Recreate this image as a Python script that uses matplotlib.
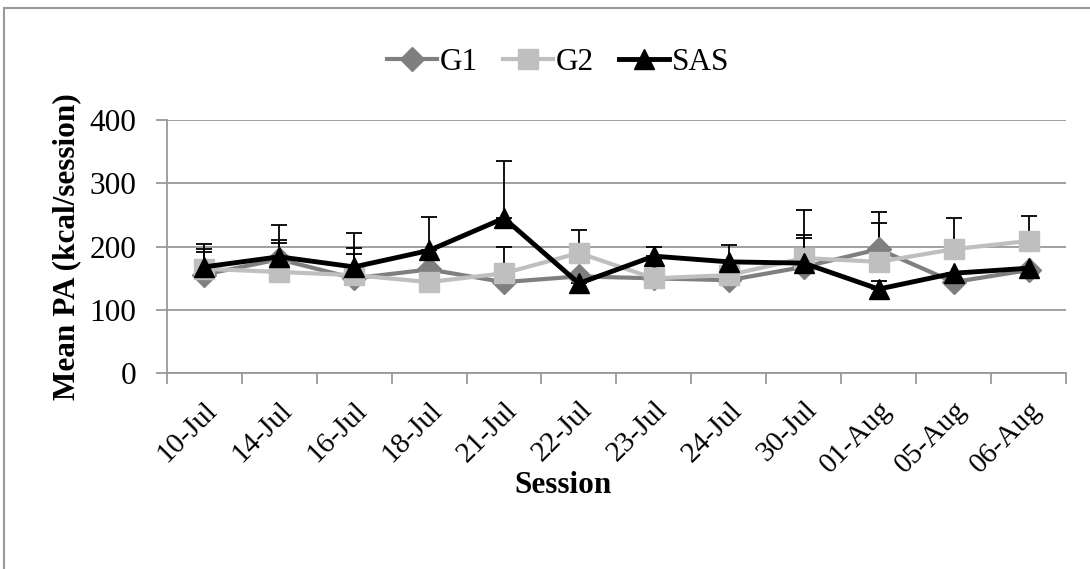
import numpy as np
import matplotlib
matplotlib.use("Agg")
import matplotlib.pyplot as plt
from matplotlib.patches import Rectangle

sessions = ["10-Jul", "14-Jul", "16-Jul", "18-Jul", "21-Jul", "22-Jul",
            "23-Jul", "24-Jul", "30-Jul", "01-Aug", "05-Aug", "06-Aug"]
g1 = [156, 180, 150, 164, 144, 153, 150, 147, 168, 196, 144, 163]
g2 = [165, 160, 155, 144, 158, 190, 150, 155, 182, 176, 196, 209]
sas = [168, 184, 168, 194, 245, 142, 185, 176, 174, 133, 158, 166]
nan = np.nan
g1_err = [35, 31, 48, nan, nan, nan, nan, nan, 50, 59, nan, nan]
g2_err = [31, 45, 33, nan, 42, 36, nan, nan, 31, 62, 49, 40]
sas_err = [36, 50, 54, 53, 90, nan, 14, 26, 84, 12, nan, nan]

plt.rcParams["font.family"] = ["Liberation Serif", "DejaVu Serif"]
fs = 22.5

fig = plt.figure(figsize=(10.9, 5.69), dpi=100)
ax = fig.add_axes([0.153, 0.344, 0.825, 0.445])
x = np.arange(len(sessions))

series = [
    ("G1", g1, g1_err, "#7f7f7f", "D", 12.5, 3),
    ("G2", g2, g2_err, "#bfbfbf", "s", 15, 3),
    ("SAS", sas, sas_err, "black", "^", 15, 3.5),
]
for i, (name, vals, errs, col, mk, ms, lw) in enumerate(series):
    vals = np.array(vals, float)
    errs = np.array(errs, float)
    ax.errorbar(x, vals, yerr=[np.zeros_like(errs), errs], fmt="none",
                ecolor="black", elinewidth=1.3, capsize=6, capthick=1.3,
                zorder=2 + i)
    ax.plot(x, vals, color=col, lw=lw, marker=mk, ms=ms, mec=col, mfc=col,
            label=name, zorder=5 + i)

ax.set_xlim(-0.5, len(sessions) - 0.5)
ax.set_ylim(0, 400)
ax.set_yticks([0, 100, 200, 300, 400])
ax.yaxis.grid(True, color="#999999", lw=1.3)
ax.set_axisbelow(True)
ax.set_xticks(x)
ax.set_xticklabels(sessions, rotation=45, ha="right", va="top",
                   rotation_mode="anchor", fontsize=21)
ax.set_xticks(np.arange(-0.5, len(sessions)), minor=True)
ax.tick_params(axis="x", which="major", length=0, pad=17)
ax.tick_params(axis="x", which="minor", length=8, color="#999999", width=1.3)
ax.tick_params(axis="y", length=8, color="#999999", width=1.3, labelsize=fs, pad=14)
for s in ["top", "right"]:
    ax.spines[s].set_visible(False)
for s in ["left", "bottom"]:
    ax.spines[s].set_color("#999999")
    ax.spines[s].set_linewidth(1.3)

ax.set_ylabel("Mean PA (kcal/session)", fontsize=fs, fontweight="bold", labelpad=6)
fig.text(0.517, 0.146, "Session", fontsize=fs, fontweight="bold", ha="center", va="center")

fig.legend(loc="center", bbox_to_anchor=(0.512, 0.891), ncol=3, frameon=False,
           fontsize=fs, handlelength=1.6, handletextpad=0.1, columnspacing=0.8)

fig.patches.append(Rectangle((0.0041, -0.1), 1.2, 1.086, transform=fig.transFigure,
                             fill=False, edgecolor="#999999", lw=1.5))

fig.savefig("out.png", dpi=100)
